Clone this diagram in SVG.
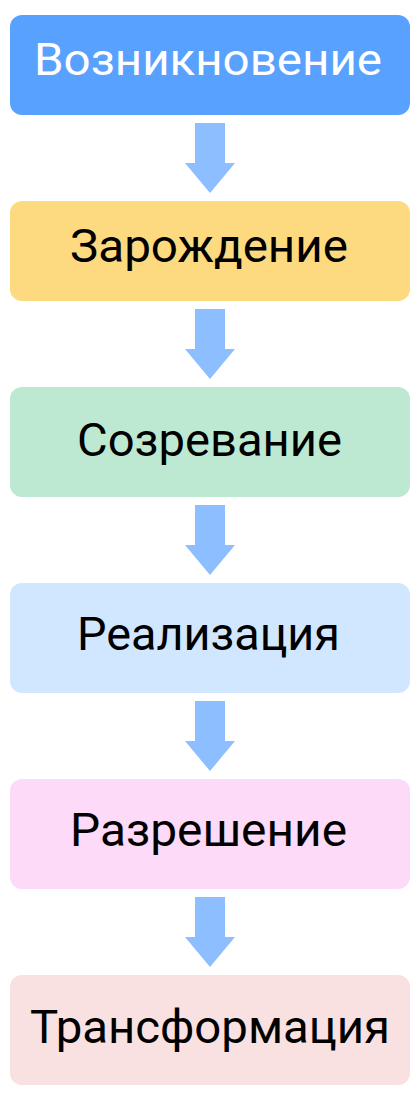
<svg xmlns="http://www.w3.org/2000/svg" width="420" height="1100" viewBox="0 0 420 1100">
  <style>
    .lbl { font-family: Roboto, "Noto Sans", "DejaVu Sans", sans-serif; font-size: 47px; fill: #000000; text-anchor: middle; }
    .first { font-size: 44px; fill: #ffffff; }
    .arrow { fill: #8dbeff; }
  </style>
  <rect width="420" height="1100" fill="#ffffff"/>
  <g id="connectors">
    <polygon class="arrow" points="195,123 225,123 225,163 235,163 210,193 185,163 195,163"/>
    <polygon class="arrow" points="195,309 225,309 225,349 235,349 210,379 185,349 195,349"/>
    <polygon class="arrow" points="195,505 225,505 225,545 235,545 210,575 185,545 195,545"/>
    <polygon class="arrow" points="195,701 225,701 225,741 235,741 210,771 185,741 195,741"/>
    <polygon class="arrow" points="195,897 225,897 225,937 235,937 210,967 185,937 195,937"/>
  </g>
  <g id="node-vozniknovenie">
    <rect x="10" y="15" width="400" height="100" rx="12" fill="#58a1ff"/>
    <text class="lbl first" x="208" y="75" textLength="348" lengthAdjust="spacingAndGlyphs">Возникновение</text>
  </g>
  <g id="node-zarozhdenie">
    <rect x="10" y="201" width="400" height="100" rx="12" fill="#fdda80"/>
    <text class="lbl" x="209" y="262" textLength="278" lengthAdjust="spacingAndGlyphs">Зарождение</text>
  </g>
  <g id="node-sozrevanie">
    <rect x="10" y="387" width="400" height="110" rx="12" fill="#bde9d3"/>
    <text class="lbl" x="209.5" y="456" textLength="265" lengthAdjust="spacingAndGlyphs">Созревание</text>
  </g>
  <g id="node-realizatsiya">
    <rect x="10" y="583" width="400" height="110" rx="12" fill="#d1e7ff"/>
    <text class="lbl" x="208.5" y="650" textLength="263" lengthAdjust="spacingAndGlyphs">Реализация</text>
  </g>
  <g id="node-razreshenie">
    <rect x="10" y="779" width="400" height="110" rx="12" fill="#fcdaf8"/>
    <text class="lbl" x="208.5" y="846" textLength="277" lengthAdjust="spacingAndGlyphs">Разрешение</text>
  </g>
  <g id="node-transformatsiya">
    <rect x="10" y="975" width="400" height="110" rx="12" fill="#f9e0e1"/>
    <text class="lbl" x="210" y="1043" textLength="360" lengthAdjust="spacingAndGlyphs">Трансформация</text>
  </g>
</svg>
